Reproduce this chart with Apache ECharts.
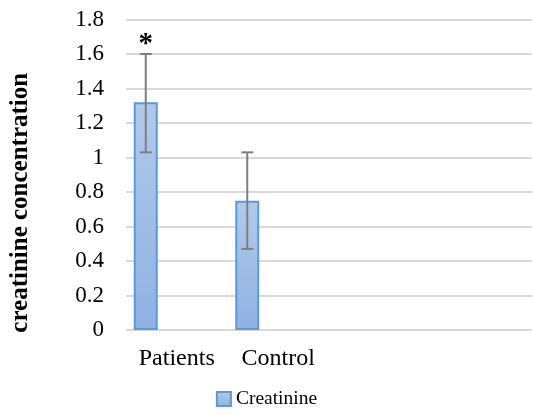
<!DOCTYPE html>
<html>
<head>
<meta charset="utf-8">
<script src="https://cdn.jsdelivr.net/npm/echarts@6/dist/echarts.min.js"></script>
<style>
  html, body { margin: 0; padding: 0; background: #fff; }
  #chart { width: 533px; height: 415px; }
</style>
</head>
<body>
<div id="chart"></div>
<script>
// Groups on the x axis (the last two bands are left empty)
const categories = ['Patients', 'Control', '', ''];
// Mean creatinine concentration per group
const creatinine = [1.32, 0.75, null, null];
// Error bar limits (lower, upper)
const errLow = [1.03, 0.47];
const errHigh = [1.60, 1.03];
// Significance marks above the error bars
const sigMarks = ['*', ''];
// y axis tick range
const yMin = 0, yMax = 1.8, yStep = 0.2;

const BAR_W = 24;
const GAP = 38;
const SERIF = '"Liberation Serif", "Times New Roman", serif';

const errData = errLow.map((lo, i) => [i, lo, errHigh[i], sigMarks[i]]);

const chart = echarts.init(document.getElementById('chart'), null, { renderer: 'canvas' });

chart.setOption({
  animation: false,
  grid: { left: 122, right: 1, top: 19.5, bottom: 85, containLabel: false },
  legend: {
    data: [{ name: 'Creatinine', icon: 'rect' }],
    left: 'center',
    bottom: 1,
    itemWidth: 14,
    itemHeight: 14,
    itemGap: 4,
    textStyle: { fontFamily: SERIF, fontSize: 19.5, color: '#000' }
  },
  xAxis: {
    type: 'category',
    data: categories,
    axisLine: { show: false },
    axisTick: { show: false },
    axisLabel: { fontFamily: SERIF, fontSize: 24, color: '#000', margin: 17 }
  },
  yAxis: {
    type: 'value',
    min: yMin,
    max: yMax,
    interval: yStep,
    name: 'creatinine concentration',
    nameLocation: 'middle',
    nameGap: 93,
    nameTextStyle: {
      fontFamily: SERIF, fontSize: 25, fontWeight: 'bold', color: '#000',
      padding: [0, 56, 0, 0]
    },
    axisLine: { show: false },
    axisTick: { show: false },
    axisLabel: {
      fontFamily: SERIF, fontSize: 23, color: '#000', margin: 22,
      formatter: v => String(Math.round(v * 10) / 10)
    },
    splitLine: { lineStyle: { color: '#d9d9d9', width: 2 } }
  },
  series: [
    {
      name: 'Creatinine',
      type: 'bar',
      data: creatinine,
      barWidth: BAR_W,
      barGap: (GAP / BAR_W * 100) + '%',
      itemStyle: {
        color: new echarts.graphic.LinearGradient(0, 0, 0, 1, [
          { offset: 0, color: '#b1caeb' },
          { offset: 1, color: '#8fb1e1' }
        ]),
        borderColor: '#5b9bd5',
        borderWidth: 2
      },
      z: 2
    },
    {
      name: 'spacer',
      type: 'bar',
      data: categories.map(() => null),
      barWidth: BAR_W,
      silent: true
    },
    {
      name: 'error',
      type: 'custom',
      data: errData,
      z: 5,
      renderItem: function (params, api) {
        const idx = api.value(0);
        const lo = api.coord([idx, api.value(1)]);
        const hi = api.coord([idx, api.value(2)]);
        const x = lo[0] - (BAR_W + GAP) / 2;
        const cap = 6;
        const style = { stroke: '#7f7f7f', lineWidth: 2 };
        const children = [
          { type: 'line', shape: { x1: x, y1: lo[1], x2: x, y2: hi[1] }, style },
          { type: 'line', shape: { x1: x - cap, y1: lo[1], x2: x + cap, y2: lo[1] }, style },
          { type: 'line', shape: { x1: x - cap, y1: hi[1], x2: x + cap, y2: hi[1] }, style }
        ];
        const mark = api.value(3);
        if (mark) {
          children.push({
            type: 'text',
            style: {
              text: mark, x: x, y: hi[1] + 5,
              align: 'center', verticalAlign: 'bottom',
              font: 'bold 29px ' + SERIF, fill: '#000'
            }
          });
        }
        return { type: 'group', children };
      }
    }
  ]
});
</script>
</body>
</html>
